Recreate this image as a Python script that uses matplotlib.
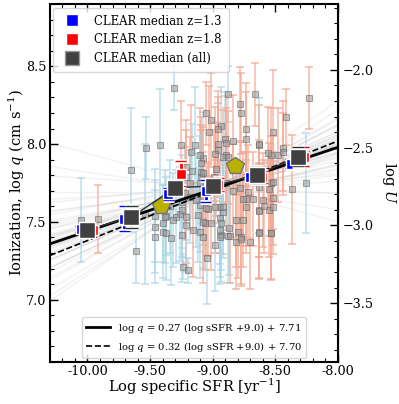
import matplotlib
matplotlib.use("Agg")
import matplotlib.pyplot as plt
import matplotlib.patheffects as pe
from matplotlib.ticker import MultipleLocator, FormatStrFormatter, FixedLocator
from matplotlib.lines import Line2D
import numpy as np

plt.rcParams['font.family'] = 'DejaVu Serif'
plt.rcParams['mathtext.fontset'] = 'dejavuserif'

# individual galaxies: log sSFR, log q, error, sample (b = z~1.3, r = z~1.8)
gal_x = [-9.655, -9.535, -9.424, -9.312, -9.139, -8.879, -9.615, -9.463, -9.376, -9.40,
         -9.344, -9.264, -9.24, -9.20, -9.13, -10.05, -9.918, -9.256, -9.051, -8.786,
         -8.773, -8.661, -8.228, -8.515, -8.414, -8.435, -9.012, -8.932, -8.958, -8.90,
         -8.839, -8.738, -8.738, -8.627, -9.031, -8.959, -8.892, -8.627, -8.533, -8.481,
         -8.441, -8.959, -8.985, -9.078, -8.892, -9.091, -9.091, -8.892, -8.533, -8.839,
         -8.733, -8.68, -8.627, -8.547, -9.039, -8.945, -8.919, -8.76, -9.065, -8.932,
         -8.8, -8.533, -8.255, -8.919, -8.879, -8.977, -8.993, -8.521, -8.627, -8.786,
         -8.561, -8.366, -8.547, -8.72, -8.76, -8.60, -8.521, -8.919, -8.985, -8.733,
         -8.627, -8.521, -8.945, -8.812, -8.945, -8.866, -8.627, -8.879, -8.773, -8.945,
         -8.932, -9.012, -8.858, -8.812, -8.773, -8.706, -8.985, -9.045, -8.627, -8.533,
         -8.587, -9.176, -9.105, -9.211, -9.091, -9.168, -9.078, -9.211, -9.184, -9.105,
         -9.224, -9.184, -9.078, -9.248, -9.105, -9.051, -9.248, -9.29, -9.211, -9.118,
         -9.078, -9.384, -9.318, -9.463, -9.211, -9.40, -9.16, -9.105, -9.463, -9.371,
         -9.248, -9.331, -9.078, -9.54]
gal_y = [7.833, 7.974, 7.994, 8.36, 7.994, 8.319, 7.31, 7.54, 7.54, 7.49,
         7.60, 7.55, 7.213, 7.188, 7.64, 7.51, 7.52, 7.994, 8.197, 8.256,
         8.197, 8.319, 8.297, 8.075, 8.175, 7.974, 8.154, 8.115, 8.094, 8.034,
         8.017, 8.094, 8.034, 7.994, 8.075, 8.0, 8.006, 8.0, 7.929, 7.929,
         7.951, 7.962, 7.936, 7.908, 7.929, 7.822, 7.79, 7.748, 7.75, 7.70,
         7.647, 7.647, 7.577, 7.577, 7.581, 7.598, 7.566, 7.513, 7.492, 7.417,
         7.438, 7.428, 7.75, 7.919, 7.915, 7.84, 7.79, 7.754, 7.726, 7.72,
         7.94, 7.71, 7.71, 7.694, 7.647, 7.641, 7.652, 7.594, 7.598, 7.598,
         7.572, 7.594, 7.528, 7.513, 7.449, 7.46, 7.438, 7.41, 7.402, 7.402,
         7.492, 7.492, 7.41, 7.37, 7.389, 7.37, 7.353, 7.271, 7.431, 7.431,
         7.60, 7.951, 7.929, 7.854, 7.876, 7.828, 7.812, 7.79, 7.748, 7.752,
         7.684, 7.662, 7.652, 7.63, 7.609, 7.588, 7.577, 7.534, 7.534, 7.545,
         7.502, 7.534, 7.513, 7.47, 7.481, 7.438, 7.449, 7.438, 7.406, 7.428,
         7.417, 7.396, 7.406, 7.55]
gal_err = [0.40, 0.20, 0.36, 0.14, 0.37, 0.18, 0.20, 0.30, 0.25, 0.25,
           0.30, 0.30, 0.08, 0.08, 0.30, 0.27, 0.22, 0.28, 0.20, 0.24,
           0.26, 0.20, 0.20, 0.40, 0.18, 0.30, 0.30, 0.25, 0.25, 0.30,
           0.30, 0.30, 0.30, 0.30, 0.30, 0.30, 0.30, 0.25, 0.30, 0.30,
           0.25, 0.30, 0.30, 0.30, 0.30, 0.30, 0.30, 0.30, 0.30, 0.30,
           0.30, 0.30, 0.30, 0.30, 0.30, 0.30, 0.30, 0.30, 0.30, 0.30,
           0.30, 0.30, 0.32, 0.30, 0.30, 0.30, 0.30, 0.30, 0.30, 0.30,
           0.30, 0.35, 0.30, 0.30, 0.30, 0.30, 0.30, 0.30, 0.30, 0.30,
           0.30, 0.30, 0.30, 0.30, 0.30, 0.30, 0.30, 0.30, 0.30, 0.30,
           0.30, 0.30, 0.30, 0.30, 0.30, 0.30, 0.30, 0.30, 0.30, 0.30,
           0.30, 0.30, 0.30, 0.30, 0.30, 0.30, 0.30, 0.30, 0.30, 0.30,
           0.30, 0.30, 0.30, 0.30, 0.30, 0.30, 0.30, 0.30, 0.30, 0.30,
           0.30, 0.30, 0.30, 0.30, 0.30, 0.30, 0.30, 0.30, 0.30, 0.30,
           0.30, 0.30, 0.30, 0.45]
gal_z = ['b', 'b', 'b', 'b', 'b', 'b', 'b', 'b', 'b', 'b',
         'b', 'b', 'b', 'b', 'b', 'b', 'r', 'r', 'r', 'r',
         'r', 'r', 'r', 'r', 'r', 'r', 'r', 'b', 'r', 'b',
         'r', 'r', 'r', 'b', 'r', 'r', 'r', 'r', 'r', 'r',
         'r', 'r', 'r', 'b', 'r', 'r', 'r', 'r', 'r', 'r',
         'r', 'r', 'r', 'r', 'r', 'r', 'b', 'r', 'r', 'b',
         'r', 'r', 'b', 'r', 'r', 'r', 'r', 'r', 'r', 'r',
         'r', 'r', 'r', 'r', 'r', 'r', 'r', 'b', 'r', 'r',
         'r', 'r', 'b', 'r', 'b', 'b', 'r', 'b', 'r', 'b',
         'b', 'r', 'r', 'r', 'r', 'r', 'b', 'b', 'r', 'r',
         'r', 'r', 'r', 'r', 'r', 'b', 'r', 'r', 'r', 'b',
         'r', 'b', 'r', 'b', 'b', 'r', 'b', 'b', 'r', 'b',
         'b', 'b', 'b', 'b', 'b', 'b', 'r', 'b', 'b', 'b',
         'b', 'b', 'r', 'b']

# binned medians
bin_x = [-10.0, -9.65, -9.3, -9.0, -8.65, -8.32]
med_all = [7.45, 7.53, 7.72, 7.73, 7.80, 7.92]
err_all = [0.03, 0.07, 0.02, 0.03, 0.05, 0.06]
med_z13 = [7.455, 7.52, 7.68, 7.70, 7.79, 7.875]
err_z13 = [0.02, 0.08, 0.04, 0.07, 0.02, 0.03]
med_z18 = [7.45, np.nan, 7.81, 7.74, 7.79, 7.92]
err_z18 = [0.02, np.nan, 0.08, 0.04, 0.04, 0.06]

# literature points (pentagons)
lit_x = [-9.41, -8.82]
lit_y = [7.60, 7.86]

# fits
fit_solid = (0.27, 7.71)
fit_dash = (0.32, 7.70)
# bootstrap fits (slope, intercept)
boot_slope = [-0.22, -0.12, -0.05, 0.0, 0.05, 0.08, 0.10, 0.12, 0.14, 0.15, 0.16, 0.18, 0.19, 0.20,
              0.21, 0.22, 0.23, 0.24, 0.24, 0.25, 0.26, 0.26, 0.27, 0.27, 0.28, 0.28, 0.29, 0.30,
              0.30, 0.31, 0.32, 0.33, 0.34, 0.35, 0.36, 0.37, 0.38, 0.40, 0.41, 0.43, 0.45, 0.48,
              0.52, 0.56]
boot_int = [7.72, 7.70, 7.73, 7.69, 7.71, 7.73, 7.70, 7.72, 7.69, 7.74, 7.70, 7.69, 7.72, 7.67,
            7.73, 7.70, 7.72, 7.69, 7.71, 7.73, 7.68, 7.71, 7.70, 7.74, 7.69, 7.72, 7.71, 7.70,
            7.73, 7.69, 7.71, 7.72, 7.70, 7.71, 7.72, 7.69, 7.70, 7.72, 7.71, 7.70, 7.71, 7.69,
            7.70, 7.72]

u_ticks = [-3.5, -3.0, -2.5, -2.0]
log_c = 10.477  # log U = log q - log c

fig = plt.figure(figsize=(3.99, 4.04), dpi=100)
ax = fig.add_axes([0.125, 0.104, 0.722, 0.886])
ax.set_xlim(-10.3, -8.0)
ax.set_ylim(6.6, 8.9)

xx = np.array(ax.get_xlim())
for s, b in zip(boot_slope, boot_int):
    ax.plot(xx, s * (xx + 9.0) + b, color='0.55', alpha=0.11, lw=1.0, zorder=1)

cols = {'b': '#a8d5e5', 'r': '#f4a48c'}
for x, y, e, z in zip(gal_x, gal_y, gal_err, gal_z):
    ax.errorbar(x, y, yerr=e, fmt='none', ecolor=cols[z], alpha=0.7, elinewidth=1.2,
                capsize=3, capthick=1.2, zorder=2)
ax.plot(gal_x, gal_y, 's', ms=4.3, mfc='0.6', mec='0.4', mew=0.8, alpha=0.55, ls='none', zorder=3)

ax.plot(xx, fit_solid[0] * (xx + 9.0) + fit_solid[1], color='k', lw=2.0, zorder=4,
        label=r'log $q$ = 0.27 (log sSFR +9.0) + 7.71')
ax.plot(xx, fit_dash[0] * (xx + 9.0) + fit_dash[1], color='k', lw=1.2, ls='--', zorder=4,
        label=r'log $q$ = 0.32 (log sSFR +9.0) + 7.70')

ax.plot(lit_x, lit_y, 'p', ms=13, mfc='#bab000', mec='0.45', mew=1, zorder=5)

ax.plot(bin_x, med_all, '-', color='0.2', lw=1.0, zorder=5)

outline = [pe.Stroke(linewidth=3.5, foreground='white'), pe.Normal()]
bx = np.array(bin_x)
eb1 = ax.errorbar(bx - 0.055, med_z13, yerr=err_z13, fmt='s', ms=7.5, mfc='blue', mec='white', mew=1,
                  ecolor='blue', elinewidth=2, capsize=4, capthick=1.5, zorder=6)
eb2 = ax.errorbar(bx + 0.045, med_z18, yerr=err_z18, fmt='s', ms=7.5, mfc='red', mec='white', mew=1,
                  ecolor='red', elinewidth=2, capsize=4, capthick=1.5, zorder=6)
eb3 = ax.errorbar(bx, med_all, yerr=err_all, fmt='s', ms=11, mfc='#404040', mec='white', mew=1,
                  ecolor='#303030', elinewidth=2, capsize=4.5, capthick=1.5, zorder=7)
for eb in (eb1, eb2, eb3):
    for art in eb[1] + eb[2]:
        art.set_path_effects(outline)

ax.xaxis.set_major_locator(MultipleLocator(0.5))
ax.xaxis.set_minor_locator(MultipleLocator(0.1))
ax.xaxis.set_major_formatter(FormatStrFormatter('%.2f'))
ax.yaxis.set_major_locator(MultipleLocator(0.5))
ax.yaxis.set_minor_locator(MultipleLocator(0.1))
ax.tick_params(which='both', direction='in', top=True, right=False, labelsize=9.2, pad=2.5)
ax.tick_params(which='major', length=6, width=1)
ax.tick_params(which='minor', length=3, width=0.8)
for sp in ax.spines.values():
    sp.set_linewidth(1.5)

sec = ax.secondary_yaxis('right', functions=(lambda q: q - log_c, lambda u: u + log_c))
sec.yaxis.set_major_locator(FixedLocator(u_ticks))
sec.yaxis.set_minor_locator(MultipleLocator(0.1))
sec.tick_params(which='both', direction='in', labelsize=9.2)
sec.tick_params(which='major', length=6, width=1)
sec.tick_params(which='minor', length=3, width=0.8)
sec.set_ylabel(r'log $U$', rotation=270, labelpad=17, fontsize=10.5)

ax.set_xlabel(r'Log specific SFR [yr$^{-1}$]', fontsize=10.5, labelpad=-1)
ax.set_ylabel(r'Ionization, log $q$ (cm s$^{-1}$)', fontsize=10.5, labelpad=-1)

h = [Line2D([], [], marker='s', ls='none', ms=8, mfc='blue', mec='white'),
     Line2D([], [], marker='s', ls='none', ms=8, mfc='red', mec='white'),
     Line2D([], [], marker='s', ls='none', ms=10, mfc='#404040', mec='0.6')]
leg1 = ax.legend(h, ['CLEAR median z=1.3', 'CLEAR median z=1.8', 'CLEAR median (all)'],
                 loc='upper left', fontsize=8.4, borderaxespad=0.3, borderpad=0.6,
                 handletextpad=0.9, labelspacing=0.5)
ax.add_artist(leg1)
ax.legend(loc='lower center', fontsize=7.2, handlelength=2.4, borderaxespad=0.4)

fig.savefig('out.png', dpi=100)
